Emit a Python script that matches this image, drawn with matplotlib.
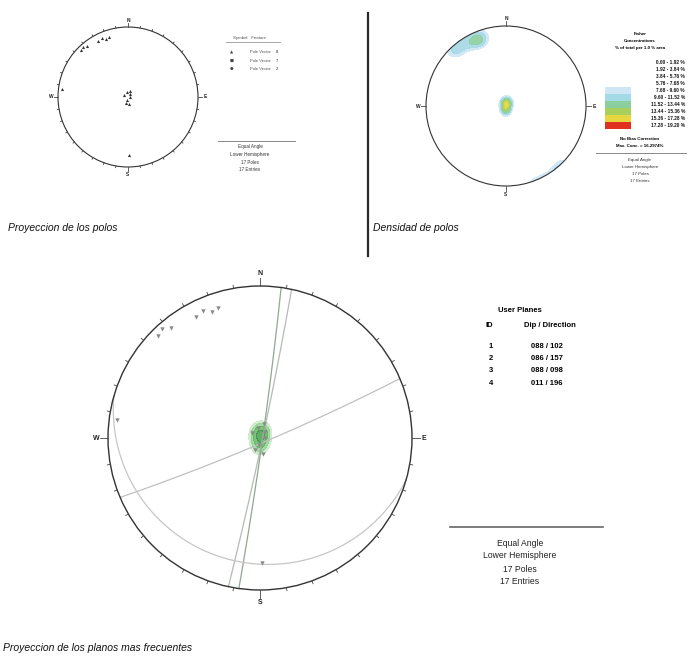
import numpy as np
import matplotlib
matplotlib.use("Agg")
import matplotlib.pyplot as plt
from matplotlib.lines import Line2D
from matplotlib.patches import Circle, Rectangle

plt.rcParams['font.family'] = ['Liberation Sans', 'DejaVu Sans']

W, H = 688, 658

# ---- data -------------------------------------------------------------
# poles to the measured planes: trend / plunge (degrees)
pole_trend = [16, 40, 350, 200, 95, 300, 170, 190,
              315, 318, 321, 332, 336, 339, 342, 179, 277]
pole_plunge = [79, 84, 82, 80, 86, 83, 78, 85,
               3, 2, 4, 6, 5, 7, 6, 11, 3]

# most frequent planes
plane_id = ["1", "2", "3", "4"]
plane_dip = [88, 86, 88, 11]
plane_dipdir = [102, 157, 98, 196]

# density legend colours (lowest bins left blank)
dens_colors = ['#ffffff', '#ffffff', '#ffffff', '#ffffff', '#cfe6f6',
               '#a4d9e6', '#8ccf9e', '#a9cf5c', '#e6d640', '#e03020']
# shading of the central pole cluster on the planes plot
cluster_colors = ['#bfe6bf', '#86cc86', '#4fae4f', '#2f8f3a', '#2f8f3a', '#2f8f3a']

symbol_marks = ['▲', '■', '●']
symbol_names = ['Pole Vector', 'Pole Vector', 'Pole Vector']
symbol_counts = ['8', '7', '2']

KAPPA = 60.0


# ---- stereographic (equal angle) helpers -----------------------------
def project(trend, plunge):
    t = np.radians(np.asarray(trend, float))
    p = np.radians(np.asarray(plunge, float))
    r = np.tan((np.pi / 2 - p) / 2)
    return r * np.sin(t), r * np.cos(t)


def great_circle(dip, dipdir, n=181):
    a = np.radians(dipdir)
    d = np.radians(dip)
    s = np.array([np.sin(a - np.pi / 2), np.cos(a - np.pi / 2), 0.0])
    dv = np.array([np.sin(a) * np.cos(d), np.cos(a) * np.cos(d), np.sin(d)])
    lam = np.linspace(0, np.pi, n)
    v = np.outer(np.cos(lam), s) + np.outer(np.sin(lam), dv)
    trend = np.degrees(np.arctan2(v[:, 0], v[:, 1]))
    plunge = np.degrees(np.arcsin(np.clip(v[:, 2], 0, 1)))
    return project(trend, plunge)


def density_grid(n=241):
    xs = np.linspace(-1, 1, n)
    X, Y = np.meshgrid(xs, xs)
    R = np.hypot(X, Y)
    th = 2 * np.arctan(R)
    ph = np.arctan2(X, Y)
    g = np.stack([np.sin(th) * np.sin(ph), np.sin(th) * np.cos(ph), np.cos(th)], -1)
    t = np.radians(pole_trend)
    p = np.radians(pole_plunge)
    pv = np.stack([np.cos(p) * np.sin(t), np.cos(p) * np.cos(t), np.sin(p)], -1)
    dots = np.abs(g @ pv.T)
    dens = KAPPA * np.exp(KAPPA * (dots - 1)).sum(-1) / len(pole_trend)
    dens = np.where(R <= 1.0, dens, np.nan)
    return X, Y, dens


def make_net(fig, cx, cy, R, pad=1.18):
    ax = fig.add_axes([(cx - pad * R) / W, (H - cy - pad * R) / H,
                       2 * pad * R / W, 2 * pad * R / H])
    ax.set_xlim(-pad, pad)
    ax.set_ylim(-pad, pad)
    ax.set_aspect('equal')
    ax.axis('off')
    return ax


def frame(ax, lw, ticks=True, tick_len=0.025, card_len=0.06, label_size=4.5, lab_gap=0.05):
    ax.add_patch(Circle((0, 0), 1, fill=False, lw=lw, ec='#333333', zorder=5))
    azs = range(0, 360, 10) if ticks else range(0, 360, 90)
    for az in azs:
        a = np.radians(az)
        L = card_len if az % 90 == 0 else tick_len
        ax.plot([np.sin(a), (1 + L) * np.sin(a)], [np.cos(a), (1 + L) * np.cos(a)],
                color='#444444', lw=0.6, zorder=5)
    for lab, az in zip("NESW", (0, 90, 180, 270)):
        a = np.radians(az)
        rr = 1 + card_len + lab_gap
        ax.text(rr * np.sin(a), rr * np.cos(a), lab, fontsize=label_size, ha='center',
                va='center', fontweight='bold', color='#222222')


fig = plt.figure(figsize=(W / 100, H / 100), dpi=100)
fig.patch.set_facecolor('white')

px, py = project(pole_trend, pole_plunge)
X, Y, D = density_grid()
dmax = np.nanmax(D)
step = round(dmax / 8.5, 2)
dens_lo = [i * step for i in range(10)]
dens_hi = [(i + 1) * step for i in range(10)]
levels = dens_lo[4:] + [dens_hi[-1]]
fill_colors = dens_colors[4:]

# ---- top left: pole plot ----------------------------------------------
ax1 = make_net(fig, 128, 97, 70)
frame(ax1, 0.8, ticks=True, label_size=3.5, lab_gap=0.04)
ax1.scatter(px, py, marker='^', s=5, c='#333333', linewidths=0, zorder=6)

fig.text(233 / W, 1 - 38 / H, "Symbol   Feature", fontsize=3.2, va='center', color='#555555')
fig.add_artist(Line2D([226 / W, 280 / W], [1 - 42 / H] * 2, color='#999999', lw=0.6))
for i, (m, nm, ct) in enumerate(zip(symbol_marks, symbol_names, symbol_counts)):
    yy = 1 - (52 + 8.5 * i) / H
    fig.text(232 / W, yy, m, fontsize=3, va='center', ha='center', color='#444444',
             family=['DejaVu Sans'])
    fig.text(250 / W, yy, nm, fontsize=3, va='center', color='#555555')
    fig.text(276 / W, yy, ct, fontsize=3, va='center', color='#222222')

fig.add_artist(Line2D([218 / W, 295 / W], [1 - 141 / H] * 2, color='#888888', lw=0.7))
for i, s in enumerate(["Equal Angle", "Lower Hemisphere", "17 Poles", "17 Entries"]):
    fig.text(250 / W, 1 - (147 + 7.5 * i) / H, s, fontsize=3.3, ha='center', va='center',
             color='#333333')

fig.text(8 / W, 1 - 228 / H, "Proyeccion de los polos", fontsize=7.5, style='italic',
         va='center', color='#111111')

# ---- divider ----------------------------------------------------------
fig.add_artist(Line2D([368 / W] * 2, [1 - 13 / H, 1 - 256 / H], color='#2a2a2a', lw=1.6))

# ---- top right: pole density --------------------------------------------
ax2 = make_net(fig, 506, 106, 80)
ax2.contourf(X, Y, D, levels=levels, colors=fill_colors, extend='max', alpha=0.9)
frame(ax2, 0.8, ticks=False, label_size=3.5, lab_gap=0.04)

lx = 600
fig.text(640 / W, 1 - 34 / H, "Fisher", fontsize=3.2, ha='center', va='center',
         fontweight='bold')
fig.text(640 / W, 1 - 41 / H, "Concentrations", fontsize=3.2, ha='center', va='center',
         fontweight='bold')
fig.text(640 / W, 1 - 48 / H, "% of total per 1.0 % area", fontsize=3.2, ha='center',
         va='center', fontweight='bold')
for i, (lo, hi, c) in enumerate(zip(dens_lo, dens_hi, dens_colors)):
    yy = 62 + 7.1 * i
    fig.add_artist(Rectangle(((lx + 5) / W, 1 - (yy + 3.5) / H), 26 / W, 7.1 / H,
                             transform=fig.transFigure, fc=c, ec='none'))
    fig.text(685 / W, 1 - yy / H, f"{lo:.2f} - {hi:.2f} %", fontsize=3.4, ha='right',
             va='center', color='#111111', fontweight='bold')
fig.text(640 / W, 1 - 139 / H, "No Bias Correction", fontsize=3.2, ha='center',
         va='center', fontweight='bold')
fig.text(640 / W, 1 - 146 / H, f"Max. Conc. = {dmax:.4f}%", fontsize=3.2,
         ha='center', va='center', fontweight='bold')
fig.add_artist(Line2D([596 / W, 686 / W], [1 - 153 / H] * 2, color='#888888', lw=0.7))
for i, s in enumerate(["Equal Angle", "Lower Hemisphere", "17 Poles", "17 Entries"]):
    fig.text(640 / W, 1 - (160 + 7 * i) / H, s, fontsize=3.2, ha='center', va='center',
             color='#333333')

fig.text(373 / W, 1 - 228 / H, "Densidad de polos", fontsize=7.5, style='italic',
         va='center', color='#111111')

# ---- bottom: most frequent planes ---------------------------------------
ax3 = make_net(fig, 260, 438, 152, pad=1.12)
D_center = np.where(np.hypot(X, Y) < 0.4, D, np.nan)
ax3.contourf(X, Y, D_center, levels=levels[1:], colors=cluster_colors[:len(levels) - 2],
             extend='max', alpha=0.75)
plane_colors = ['#b4bab4', '#c0c0c0', '#8fa88f', '#c6c6c6']
for dip, dd, col in zip(plane_dip, plane_dipdir, plane_colors):
    gx, gy = great_circle(dip, dd)
    ax3.plot(gx, gy, color=col, lw=0.9, zorder=3)
ax3.scatter(px, py, marker='v', s=10, c='#8a8a8a', linewidths=0, zorder=4)
frame(ax3, 1.0, ticks=True, tick_len=0.02, card_len=0.05, label_size=5, lab_gap=0.03)

fig.text(498 / W, 1 - 310 / H, "User Planes", fontsize=5.5, fontweight='bold', va='center')
fig.text(486 / W, 1 - 325 / H, "ID", fontsize=5.5, fontweight='bold', va='center')
fig.text(524 / W, 1 - 325 / H, "Dip / Direction", fontsize=5.5, fontweight='bold',
         va='center')
for i, (pid, dip, dd) in enumerate(zip(plane_id, plane_dip, plane_dipdir)):
    yy = 1 - (346 + 12.5 * i) / H
    fig.text(489 / W, yy, pid, fontsize=5.5, fontweight='bold', va='center')
    fig.text(531 / W, yy, f"{dip:03d} / {dd:03d}", fontsize=5.5, fontweight='bold',
             va='center')

fig.add_artist(Line2D([450 / W, 603 / W], [1 - 527 / H] * 2, color='#666666', lw=1.2))
for i, s in enumerate(["Equal Angle", "Lower Hemisphere", "17 Poles", "17 Entries"]):
    fig.text(520 / W, 1 - (543 + 13 * i) / H, s, fontsize=6.2, ha='center', va='center',
             color='#222222')

fig.text(3 / W, 1 - 648 / H, "Proyeccion de los planos mas frecuentes", fontsize=7.5,
         style='italic', va='center', color='#111111')

fig.savefig("out.png", dpi=100, facecolor='white')
